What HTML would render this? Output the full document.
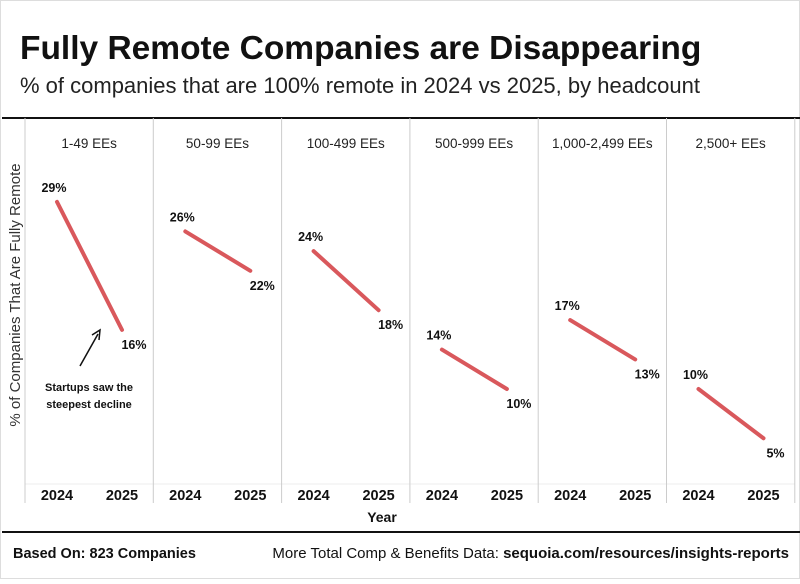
<!DOCTYPE html>
<html><head><meta charset="utf-8"><style>
body{margin:0;background:#fff;width:800px;height:579px;overflow:hidden;font-family:"Liberation Sans",sans-serif}
</style></head><body>
<svg width="800" height="579" viewBox="0 0 800 579" xmlns="http://www.w3.org/2000/svg">
<rect x="0.5" y="0.5" width="799" height="578" fill="#fff" stroke="#ddd"/>
<text x="20" y="59" font-size="33.5" font-weight="bold" fill="#111">Fully Remote Companies are Disappearing</text>
<text x="20" y="93" font-size="22" fill="#222">% of companies that are 100% remote in 2024 vs 2025, by headcount</text>
<line x1="2" y1="118" x2="800" y2="118" stroke="#111" stroke-width="2"/>
<line x1="2" y1="532" x2="800" y2="532" stroke="#111" stroke-width="2"/>
<text transform="translate(20,295) rotate(-90)" text-anchor="middle" font-size="15" fill="#333">% of Companies That Are Fully Remote</text>
<text x="382" y="522" text-anchor="middle" font-size="14" font-weight="bold" fill="#111">Year</text>
<g id="panels"></g>
<text x="13" y="558" font-size="14.5" font-weight="bold" fill="#111">Based On: 823 Companies</text>
<text x="789" y="558" text-anchor="end" font-size="15" fill="#111">More Total Comp &amp; Benefits Data: <tspan font-weight="bold">sequoia.com/resources/insights-reports</tspan></text>
<g>
<line x1="80" y1="366" x2="98" y2="334" stroke="#111" stroke-width="1.5"/>
<path d="M92,335 L100,330 L99,340" fill="none" stroke="#111" stroke-width="1.5"/>
<text x="89" y="391" text-anchor="middle" font-size="11" font-weight="bold" fill="#111">Startups saw the</text>
<text x="89" y="408" text-anchor="middle" font-size="11" font-weight="bold" fill="#111">steepest decline</text>
</g>
</svg>
<script>
const categories=["1-49 EEs","50-99 EEs","100-499 EEs","500-999 EEs","1,000-2,499 EEs","2,500+ EEs"];
const years=["2024","2025"];
const values2024=[29,26,24,14,17,10];
const values2025=[16,22,18,10,13,5];
const NS="http://www.w3.org/2000/svg";
const g=document.getElementById('panels');
const pLeft=25,pw=128.3,panelTop=118,base=487.5,scale=9.85;
const yPos=v=>base-v*scale;
const xPos=(i,j)=>pLeft+i*pw+(j===0?32:97);
function mk(tag,attrs,txt){const e=document.createElementNS(NS,tag);for(const k in attrs)e.setAttribute(k,attrs[k]);if(txt!=null)e.textContent=txt;g.appendChild(e);return e;}
let bl=mk('line',{x1:pLeft,y1:484,x2:pLeft+6*pw,y2:484,stroke:'#eee','stroke-width':1});


for(let i=0;i<=6;i++){
 const s=mk('line',{x1:pLeft+i*pw,y1:panelTop,x2:pLeft+i*pw,y2:503,stroke:'#ccc','stroke-width':1});
 
 
}
categories.forEach((c,i)=>{
 const h=mk('text',{x:pLeft+i*pw+pw/2,y:148,'text-anchor':'middle','font-size':13.5,fill:'#222'},c);
 
 
 years.forEach((y,j)=>{
  const t=mk('text',{x:xPos(i,j),y:500,'text-anchor':'middle','font-size':14.5,'font-weight':'bold',fill:'#111'},y);
  
  
 });
 const x1=xPos(i,0),x2=xPos(i,1),y1=yPos(values2024[i]),y2=yPos(values2025[i]);
 const l=mk('line',{x1:x1,y1:y1,x2:x2,y2:y2,stroke:'#d9585c','stroke-width':4,'stroke-linecap':'round'});
 
 
 const a=mk('text',{x:x1-3,y:y1-10,'text-anchor':'middle','font-size':12.5,'font-weight':'bold',fill:'#111'},values2024[i]+'%');
 
 
 const b=mk('text',{x:x2+12,y:y2+19,'text-anchor':'middle','font-size':12.5,'font-weight':'bold',fill:'#111'},values2025[i]+'%');
 
 
});
</script>
</body></html>
